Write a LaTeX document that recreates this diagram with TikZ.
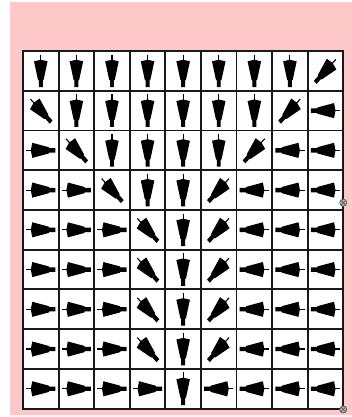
\documentclass[tikz,border=0pt]{standalone}
\definecolor{bgpink}{RGB}{255,200,200}
\definecolor{gridc}{RGB}{25,25,25}
\definecolor{handlefill}{RGB}{175,175,175}
\definecolor{handledraw}{RGB}{80,80,80}
\tikzset{
  gridline/.style={line width=1.9pt, draw=gridc, line cap=rect},
  glyphbody/.style={fill=black, draw=none},
  glyphshaft/.style={line width=1.1pt, draw=black},
  handlecirc/.style={fill=handlefill, draw=handledraw, line width=0.6pt},
  handlecross/.style={draw=handledraw, line width=0.6pt}
}
\begin{document}
\begin{tikzpicture}[x=1pt,y=1pt]
\useasboundingbox (0,0) rectangle (352,417);
% background
\fill[bgpink] (10,1.5) rectangle (352,415);
% grid area
\def\gx{23}\def\gy{366}\def\cw{35.59}\def\ch{39.74}
\fill[white] (\gx,{\gy-9*\ch}) rectangle ({\gx+9*\cw},\gy);
% arrows
\foreach \rowlist [count=\r] in {
  {-90,-90,-90,-90,-90,-90,-90,-90,-135},
  {-45,-90,-90,-90,-90,-90,-90,-135,180},
  {0,-45,-90,-90,-90,-90,-135,180,180},
  {0,0,-45,-90,-90,-135,180,180,180},
  {0,0,0,-45,-90,-135,180,180,180},
  {0,0,0,-45,-90,-135,180,180,180},
  {0,0,0,-45,-90,-135,180,180,180},
  {0,0,0,-45,-90,-135,180,180,180},
  {0,0,0,0,-90,180,180,180,180}}{
  \foreach \a [count=\c] in \rowlist {
    \begin{scope}[shift={({\gx+(\c-0.5)*\cw},{\gy-(\r-0.5)*\ch})}, xscale=\cw, yscale=\ch, rotate=\a]
      \draw[glyphshaft] (-0.41,0) -- (0.38,0);
      \fill[glyphbody] (-0.28,0) -- (-0.24,0.19) -- (0.22,0.08) -- (0.24,0.055)
        -- (0.41,0.055) -- (0.41,-0.055) -- (0.24,-0.055) -- (0.22,-0.08) -- (-0.24,-0.19) -- cycle;
    \end{scope}
  }
}
% grid lines
\foreach \i in {0,...,9}{
  \draw[gridline] ({\gx+\i*\cw},{\gy-9*\ch}) -- ({\gx+\i*\cw},\gy);
  \draw[gridline] (\gx,{\gy-\i*\ch}) -- ({\gx+9*\cw},{\gy-\i*\ch});
}
% handles
\foreach \hy in {214.3,7.5}{
  \draw[handlecirc] ({\gx+9*\cw},\hy) circle (3.6);
  \draw[handlecross] ({\gx+9*\cw-2.2},{\hy-2.2}) -- ({\gx+9*\cw+2.2},{\hy+2.2});
  \draw[handlecross] ({\gx+9*\cw-2.2},{\hy+2.2}) -- ({\gx+9*\cw+2.2},{\hy-2.2});
}
\end{tikzpicture}
\end{document}
